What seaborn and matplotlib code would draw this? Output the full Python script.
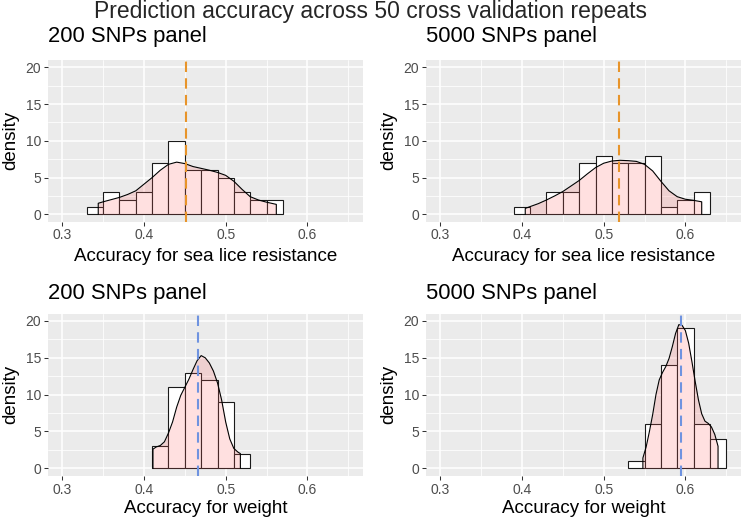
import matplotlib
matplotlib.use('Agg')
import matplotlib.pyplot as plt
import seaborn as sns
import numpy as np
import pandas as pd

BIN_WIDTH = 0.02

# sea lice resistance, 200 SNPs
lice200_start = 0.33
lice200_hist = [1, 3, 2, 3, 7, 10, 6, 6, 5, 3, 2, 2]
lice200_kde_x = [0.344, 0.350, 0.360, 0.370, 0.380, 0.390, 0.400, 0.410, 0.420, 0.430, 0.440, 0.450,
                 0.460, 0.470, 0.480, 0.490, 0.500, 0.510, 0.520, 0.530, 0.540, 0.550, 0.562]
lice200_kde_y = [1.5, 1.7, 2.0, 2.3, 2.7, 3.2, 4.1, 5.0, 6.0, 6.8, 7.1, 6.9,
                 6.5, 6.25, 6.0, 5.7, 5.3, 4.5, 3.4, 2.4, 1.95, 1.65, 1.35]
lice200_mean = 0.451

# sea lice resistance, 5000 SNPs
lice5000_start = 0.39
lice5000_hist = [1, 0, 3, 3, 7, 8, 7, 7, 8, 1, 2, 3]
lice5000_kde_x = [0.404, 0.410, 0.420, 0.430, 0.440, 0.450, 0.460, 0.470, 0.480, 0.490, 0.500, 0.510,
                  0.520, 0.530, 0.540, 0.550, 0.560, 0.570, 0.580, 0.590, 0.600, 0.610, 0.620]
lice5000_kde_y = [0.8, 1.05, 1.45, 1.95, 2.5, 3.1, 3.85, 4.6, 5.5, 6.35, 6.95, 7.25,
                  7.35, 7.3, 7.2, 6.8, 5.9, 4.5, 3.2, 2.4, 2.05, 1.9, 1.7]
lice5000_mean = 0.519

# weight, 200 SNPs
weight200_start = 0.41
weight200_hist = [3, 11, 13, 12, 9, 2]
weight200_kde_x = [0.411, 0.415, 0.420, 0.425, 0.430, 0.435, 0.440, 0.445, 0.450, 0.455, 0.460, 0.465,
                   0.470, 0.475, 0.480, 0.485, 0.490, 0.495, 0.500, 0.505, 0.510, 0.515, 0.518]
weight200_kde_y = [2.6, 2.9, 3.1, 3.6, 4.8, 6.3, 8.3, 9.9, 11.0, 12.1, 13.4, 14.6,
                   15.3, 15.0, 14.3, 13.2, 11.6, 9.3, 6.3, 4.0, 2.7, 2.2, 2.0]
weight200_mean = 0.4665

# weight, 5000 SNPs
weight5000_start = 0.53
weight5000_hist = [1, 6, 14, 19, 6, 4]
weight5000_kde_x = [0.548, 0.552, 0.556, 0.560, 0.564, 0.568, 0.572, 0.576, 0.580, 0.584, 0.588, 0.592,
                    0.596, 0.600, 0.604, 0.608, 0.612, 0.616, 0.620, 0.624, 0.628, 0.632, 0.636, 0.640]
weight5000_kde_y = [1.4, 2.9, 5.0, 7.3, 10.0, 12.0, 13.0, 13.8, 14.9, 16.5, 18.3, 19.5,
                    19.4, 18.7, 17.0, 14.5, 11.8, 9.3, 7.4, 6.4, 6.1, 5.6, 4.6, 3.0]
weight5000_mean = 0.5946

x_ticks = [0.3, 0.4, 0.5, 0.6]
y_ticks = [0, 5, 10, 15, 20]

sns.set_theme(style='darkgrid')
plt.rcParams['font.family'] = ['Liberation Sans', 'DejaVu Sans']

W, H = 742, 521
fig = plt.figure(figsize=(W / 100, H / 100), dpi=100, facecolor='white')


def px_axes(left, top, width, height):
    return fig.add_axes([left / W, 1 - (top + height) / H, width / W, height / H])


def draw_panel(ax, start, hist, kde_x, kde_y, mean, line_color, title, xlabel, title_pad, xlabel_y):
    n = len(hist)
    centers = np.round(start + BIN_WIDTH * (np.arange(n) + 0.5), 3)
    df = pd.DataFrame({'accuracy': centers, 'height': hist})
    sns.histplot(data=df, x='accuracy', weights='height', binwidth=BIN_WIDTH,
                 binrange=(start, start + n * BIN_WIDTH), stat='count', color='white',
                 edgecolor='#1A1A1A', alpha=1, linewidth=0.8, ax=ax)
    ax.fill_between(kde_x, kde_y, color='#FF6666', alpha=0.2, linewidth=0)
    ax.plot(np.r_[kde_x[0], kde_x, kde_x[-1]], np.r_[0, kde_y, 0], color='black', lw=0.8)
    ax.axvline(mean, color=line_color, ls=(0, (5, 3)), lw=1.5)

    ax.set_facecolor('#EBEBEB')
    ax.set_xlim(0.2825, 0.6675)
    ax.set_ylim(-1, 21)
    ax.set_xticks(x_ticks, [f'{t:.1f}' for t in x_ticks])
    ax.set_xticks([0.35, 0.45, 0.55, 0.65], minor=True)
    ax.set_yticks(y_ticks, [str(t) for t in y_ticks])
    ax.set_yticks([2.5, 7.5, 12.5, 17.5], minor=True)
    ax.grid(which='major', color='white', lw=1.1)
    ax.grid(which='minor', color='white', lw=0.55)
    ax.set_axisbelow(True)
    for s in ax.spines.values():
        s.set_visible(False)
    ax.tick_params(which='minor', length=0)
    ax.tick_params(which='major', length=2.9, width=0.75, color='#333333',
                   labelcolor='#4D4D4D', labelsize=10, pad=2, bottom=True, left=True)

    ax.set_title(title, loc='left', fontsize=15.8, pad=title_pad, color='black')
    ax.set_xlabel(xlabel, fontsize=13.5, va='baseline', color='black')
    ax.xaxis.set_label_coords(0.5, xlabel_y)
    ax.set_ylabel('density', fontsize=13.5, color='black')
    ax.yaxis.set_label_coords(-0.092, 0.5)


ax_tl = px_axes(48, 60.0, 314.5, 161.65)
ax_tr = px_axes(426, 60.0, 314.5, 161.65)
ax_bl = px_axes(48, 313.6, 314.5, 162.1)
ax_br = px_axes(426, 313.6, 314.5, 162.1)

orange = '#E8942A'
blue = '#6F93E0'

draw_panel(ax_tl, lice200_start, lice200_hist, lice200_kde_x, lice200_kde_y, lice200_mean,
           orange, '200 SNPs panel', 'Accuracy for sea lice resistance', 13.2, -0.2434)
draw_panel(ax_tr, lice5000_start, lice5000_hist, lice5000_kde_x, lice5000_kde_y, lice5000_mean,
           orange, '5000 SNPs panel', 'Accuracy for sea lice resistance', 13.2, -0.2434)
draw_panel(ax_bl, weight200_start, weight200_hist, weight200_kde_x, weight200_kde_y, weight200_mean,
           blue, '200 SNPs panel', 'Accuracy for weight', 10.3, -0.232)
draw_panel(ax_br, weight5000_start, weight5000_hist, weight5000_kde_x, weight5000_kde_y, weight5000_mean,
           blue, '5000 SNPs panel', 'Accuracy for weight', 10.3, -0.232)

fig.suptitle('Prediction accuracy across 50 cross validation repeats', x=0.5, y=1 - 18.3 / H,
             va='baseline', fontsize=16.5)

fig.savefig('out.png', dpi=100, facecolor='white')
